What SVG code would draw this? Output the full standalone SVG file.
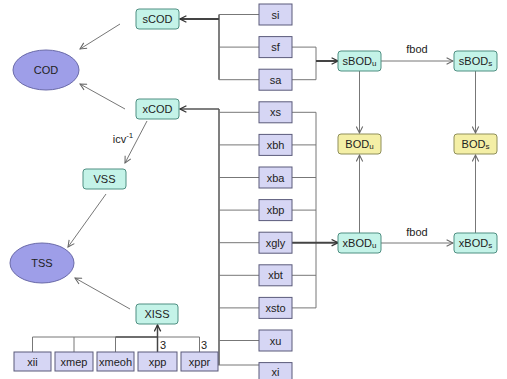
<svg xmlns="http://www.w3.org/2000/svg" width="507" height="379" viewBox="0 0 507 379">
<style>
text{font-family:"Liberation Sans",Arial,sans-serif;font-size:11px;fill:#222;text-anchor:middle;dominant-baseline:central}
.lv{fill:#d6d6f4;stroke:#5a5a7a;stroke-width:1}
.tl{fill:#c4f3e8;stroke:#4f8f82;stroke-width:1}
.yl{fill:#f4efa6;stroke:#8f8f5a;stroke-width:1}
.el{fill:#9e9ee8;stroke:#6a6aa8;stroke-width:1}
.ln{fill:none;stroke:#777;stroke-width:1}
.bus{fill:none;stroke:#555;stroke-width:1.5}
.ar{fill:none;stroke:#777;stroke-width:1;marker-end:url(#ag)}
.ak{fill:none;stroke:#444;stroke-width:2;marker-end:url(#ak)}
.sub{font-size:8px}
</style>
<defs>
<marker id="ag" viewBox="0 0 10 10" refX="9" refY="5" markerWidth="8" markerHeight="8" markerUnits="userSpaceOnUse" orient="auto"><path d="M1,1 L9,5 L1,9" fill="none" stroke="#666" stroke-width="1.3"/></marker>
<marker id="ak" viewBox="0 0 10 10" refX="9" refY="5" markerWidth="8" markerHeight="8" markerUnits="userSpaceOnUse" orient="auto"><path d="M1,1 L9,5 L1,9" fill="none" stroke="#333" stroke-width="1.6"/></marker>
</defs>
<g id="connectors">
<path class="bus" d="M219,14.5 V79.7"/>
<path class="ln" d="M219,14.5 H259 M219,47.1 H259 M219,79.7 H259"/>
<path class="ak" d="M219,19 H180"/>
<path class="bus" d="M219,109 V365"/>
<path class="ln" d="M219,112.3 H259 M219,144.9 H259 M219,177.5 H259 M219,210.1 H259 M219,242.7 H259 M219,275.3 H259 M219,307.9 H259 M219,340.5 H259 M218,365 H259"/>
<path fill="none" stroke="#555" stroke-width="1.4" marker-end="url(#ak)" d="M219,109 H180"/>
<path class="ln" d="M292,47.1 H316 V79.7 H292"/>
<path class="ak" d="M316,61 H338"/>
<path class="ln" d="M292,112.3 H316 V307.9 M292,144.9 H316 M292,177.5 H316 M292,210.1 H316 M292,275.3 H316 M292,307.9 H316"/>
<path class="ak" d="M292,242.7 H338"/>
<path class="ar" d="M381,61 H453"/>
<path class="ar" d="M381,243 H453"/>
<path class="ar" d="M359.5,71 V133"/>
<path class="ar" d="M475.5,71 V133"/>
<path class="ar" d="M359.5,233 V155"/>
<path class="ar" d="M475.5,233 V155"/>
<path class="ar" d="M120,24 L80,49"/>
<path class="ar" d="M125,109 L80,84"/>
<path class="ar" d="M147,121 L125,163"/>
<path class="ar" d="M106,194 L68,247"/>
<path class="ar" d="M130,309 L75,278"/>
<path class="ln" d="M32.5,352 V337 H199.5 V352 M74,337 V352 M115.5,337 V352"/>
<path class="bus" d="M115.5,337 H157.5"/>
<path fill="none" stroke="#444" stroke-width="1.5" marker-end="url(#ak)" d="M157.5,352 V325"/>
<text x="163" y="345">3</text>
<text x="204" y="345">3</text>
<text x="417" y="49">fbod</text>
<text x="417" y="232">fbod</text>
<text x="123" y="139">icv<tspan class="sub" dy="-4">-1</tspan></text>
</g>
<g id="COD"><ellipse class="el" cx="46" cy="70" rx="33" ry="20"/><text x="46" y="70">COD</text></g>
<g id="TSS"><ellipse class="el" cx="42" cy="263" rx="32" ry="20"/><text x="42" y="263">TSS</text></g>
<g id="sCOD"><rect class="tl" x="136" y="9" width="43" height="20" rx="3"/><text x="157.5" y="19">sCOD</text></g>
<g id="xCOD"><rect class="tl" x="136" y="99" width="43" height="20" rx="3"/><text x="157.5" y="109">xCOD</text></g>
<g id="VSS"><rect class="tl" x="83" y="169" width="43" height="20" rx="3"/><text x="104.5" y="179">VSS</text></g>
<g id="XISS"><rect class="tl" x="136" y="304" width="42" height="20" rx="3"/><text x="157" y="314">XISS</text></g>
<g id="sBODu"><rect class="tl" x="338" y="51" width="43" height="20" rx="3"/><text x="359.5" y="61">sBOD<tspan class="sub" dy="2">u</tspan></text></g>
<g id="sBODs"><rect class="tl" x="454" y="51" width="43" height="20" rx="3"/><text x="475.5" y="61">sBOD<tspan class="sub" dy="2">s</tspan></text></g>
<g id="BODu"><rect class="yl" x="338" y="134" width="43" height="20" rx="3"/><text x="359.5" y="144">BOD<tspan class="sub" dy="2">u</tspan></text></g>
<g id="BODs"><rect class="yl" x="454" y="134" width="43" height="20" rx="3"/><text x="475.5" y="144">BOD<tspan class="sub" dy="2">s</tspan></text></g>
<g id="xBODu"><rect class="tl" x="338" y="233" width="43" height="20" rx="3"/><text x="359.5" y="243">xBOD<tspan class="sub" dy="2">u</tspan></text></g>
<g id="xBODs"><rect class="tl" x="454" y="233" width="43" height="20" rx="3"/><text x="475.5" y="243">xBOD<tspan class="sub" dy="2">s</tspan></text></g>
<g id="si"><rect class="lv" x="259" y="4" width="33" height="21"/><text x="275.5" y="14.5">si</text></g>
<g id="sf"><rect class="lv" x="259" y="36.6" width="33" height="21"/><text x="275.5" y="47.1">sf</text></g>
<g id="sa"><rect class="lv" x="259" y="69.2" width="33" height="21"/><text x="275.5" y="79.7">sa</text></g>
<g id="xs"><rect class="lv" x="259" y="101.8" width="33" height="21"/><text x="275.5" y="112.3">xs</text></g>
<g id="xbh"><rect class="lv" x="259" y="134.4" width="33" height="21"/><text x="275.5" y="144.9">xbh</text></g>
<g id="xba"><rect class="lv" x="259" y="167" width="33" height="21"/><text x="275.5" y="177.5">xba</text></g>
<g id="xbp"><rect class="lv" x="259" y="199.6" width="33" height="21"/><text x="275.5" y="210.1">xbp</text></g>
<g id="xgly"><rect class="lv" x="259" y="232.2" width="33" height="21"/><text x="275.5" y="242.7">xgly</text></g>
<g id="xbt"><rect class="lv" x="259" y="264.8" width="33" height="21"/><text x="275.5" y="275.3">xbt</text></g>
<g id="xsto"><rect class="lv" x="259" y="297.4" width="33" height="21"/><text x="275.5" y="307.9">xsto</text></g>
<g id="xu"><rect class="lv" x="259" y="330" width="33" height="21"/><text x="275.5" y="340.5">xu</text></g>
<g id="xi"><rect class="lv" x="259" y="362.6" width="33" height="21"/><text x="275.5" y="372">xi</text></g>
<g id="xii"><rect class="lv" x="14" y="352" width="37" height="19"/><text x="32.5" y="361.5">xii</text></g>
<g id="xmep"><rect class="lv" x="55" y="352" width="38" height="19"/><text x="74" y="361.5">xmep</text></g>
<g id="xmeoh"><rect class="lv" x="97" y="352" width="37" height="19"/><text x="115.5" y="361.5">xmeoh</text></g>
<g id="xpp"><rect class="lv" x="138" y="352" width="39" height="19"/><text x="157.5" y="361.5">xpp</text></g>
<g id="xppr"><rect class="lv" x="181" y="352" width="37" height="19"/><text x="199.5" y="361.5">xppr</text></g>
</svg>
